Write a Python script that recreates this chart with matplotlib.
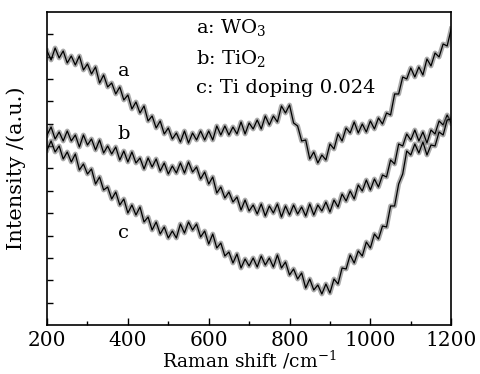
import numpy as np
import matplotlib
matplotlib.use("Agg")
import matplotlib.pyplot as plt
from matplotlib.ticker import MultipleLocator, NullFormatter

plt.rcParams['font.family'] = ['DejaVu Serif']
plt.rcParams['mathtext.fontset'] = 'dejavuserif'

# Raman shift (cm^-1), sampled every 10 cm^-1
shift = list(range(200, 1201, 10))

# a: WO3
intensity_a = [274, 265, 277, 267, 274, 262, 269, 260, 269, 255,
               261, 251, 258, 242, 250, 238, 242, 231, 238, 225,
               230, 216, 223, 212, 219, 204, 209, 197, 204, 191,
               197, 186, 192, 183, 194, 182, 192, 185, 194, 185,
               194, 185, 199, 190, 199, 190, 198, 191, 203, 191,
               202, 196, 205, 196, 209, 200, 209, 203, 219, 212,
               220, 202, 199, 184, 185, 166, 173, 162, 170, 165,
               181, 176, 191, 184, 197, 192, 203, 192, 201, 193,
               204, 196, 207, 201, 212, 210, 231, 231, 248, 246,
               257, 248, 258, 250, 266, 259, 272, 268, 281, 279,
               296]

# b: TiO2
intensity_b = [190, 198, 186, 193, 184, 194, 184, 190, 178, 190,
               180, 186, 175, 185, 172, 179, 171, 178, 165, 174,
               163, 173, 162, 167, 156, 167, 158, 166, 154, 162,
               151, 159, 152, 162, 152, 163, 153, 158, 146, 153,
               141, 148, 132, 138, 127, 133, 123, 128, 115, 125,
               114, 120, 111, 121, 109, 119, 112, 121, 108, 119,
               110, 120, 111, 118, 109, 121, 110, 120, 114, 123,
               113, 125, 118, 131, 124, 134, 126, 140, 134, 145,
               135, 146, 138, 150, 148, 165, 161, 181, 179, 191,
               185, 195, 184, 193, 182, 195, 191, 204, 200, 210,
               202]

# c: Ti doping 0.024
intensity_c = [175, 184, 173, 179, 166, 173, 163, 171, 155, 161,
               151, 156, 141, 148, 135, 138, 126, 133, 120, 126,
               112, 120, 110, 118, 103, 108, 95, 103, 91, 98,
               87, 94, 87, 101, 92, 103, 95, 101, 88, 94,
               81, 91, 77, 82, 69, 73, 62, 71, 57, 66,
               59, 67, 58, 69, 60, 67, 58, 70, 57, 63,
               50, 56, 46, 52, 37, 46, 35, 40, 31, 41,
               32, 46, 41, 57, 56, 70, 62, 74, 69, 83,
               77, 91, 86, 99, 98, 119, 119, 141, 151, 174,
               170, 181, 172, 183, 170, 180, 179, 193, 190, 205,
               206]

legend_lines = ["a: WO$_3$", "b: TiO$_2$", "c: Ti doping 0.024"]
curve_tags = ["a", "b", "c"]

fig = plt.figure(figsize=(4.8, 3.74), dpi=100)
ax = fig.add_axes([0.098, 0.131, 0.842, 0.837])

for ys in (intensity_a, intensity_b, intensity_c):
    ax.plot(shift, ys, color='#666666', lw=3.5, alpha=0.55)
    ax.plot(shift, ys, color='black', lw=0.9)

ax.set_xlim(200, 1200)
ax.set_ylim(0, 313)
ax.xaxis.set_major_locator(MultipleLocator(200))
ax.xaxis.set_minor_locator(MultipleLocator(100))
ax.set_yticks([313 / 14 * k for k in range(1, 14)])
ax.yaxis.set_major_formatter(NullFormatter())
ax.tick_params(axis='both', which='both', direction='in', top=False, right=False)
ax.tick_params(axis='x', which='major', length=5, width=1, labelsize=14.5, pad=4)
ax.tick_params(axis='x', which='minor', length=3, width=1)
ax.tick_params(axis='y', which='major', length=4, width=1)
for s in ax.spines.values():
    s.set_linewidth(1.2)

ax.set_xlabel("Raman shift /cm$^{-1}$", fontsize=13.5, labelpad=0)
ax.set_ylabel("Intensity /(a.u.)", fontsize=15, labelpad=12)

for i, t in enumerate(legend_lines):
    ax.text(0.368, 0.985 - i * 0.1, t, transform=ax.transAxes, fontsize=14,
            va='top', ha='left')

tag_pos = [(0.19, 0.81), (0.19, 0.61), (0.19, 0.295)]
for tg, (px, py) in zip(curve_tags, tag_pos):
    ax.text(px, py, tg, transform=ax.transAxes, fontsize=14, ha='center', va='center')

fig.savefig("out.png", dpi=100)
